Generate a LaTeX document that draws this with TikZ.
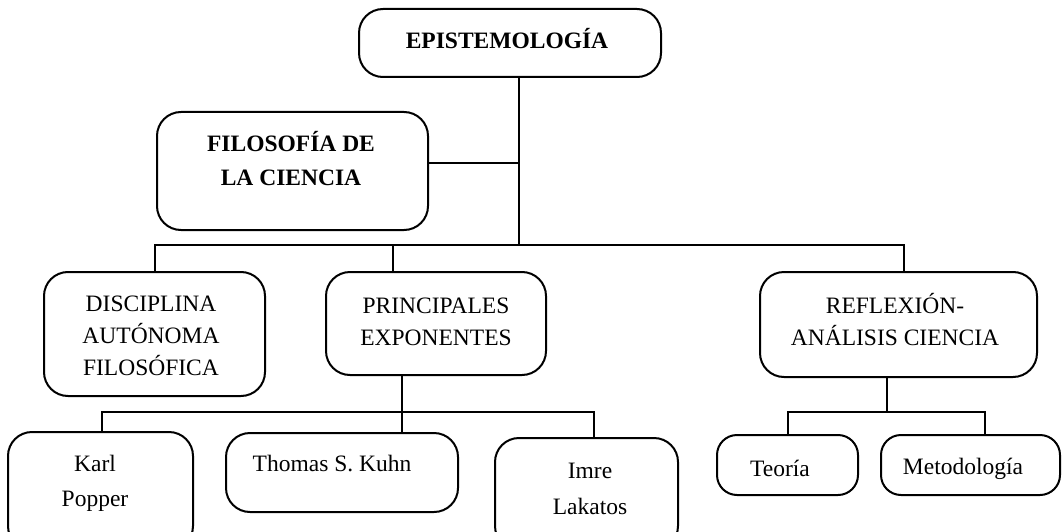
\documentclass[tikz,border=0pt]{standalone}
\usepackage{fontspec}
\setmainfont{Liberation Serif}
\tikzset{
  box/.style={draw, line width=2pt, rounded corners=24pt, inner sep=0pt},
  lbl/.style={font=\fontsize{23.5}{32}\selectfont, align=center, anchor=base, inner sep=0pt},
  blbl/.style={lbl, font=\bfseries\fontsize{23.5}{34}\selectfont},
  conn/.style={line width=2pt},
}
\begin{document}
\begin{tikzpicture}[x=1pt,y=-1pt]
\useasboundingbox (0,0) rectangle (1064,532);
\clip (0,0) rectangle (1064,532);
% boxes
\node[box, minimum width=302pt, minimum height=68pt]  (epi)  at (510,43)    {};
\node[box, minimum width=271pt, minimum height=118pt] (filo) at (292.5,171) {};
\node[box, minimum width=221pt, minimum height=124pt] (disc) at (154.5,334) {};
\node[box, minimum width=220pt, minimum height=103pt] (prin) at (436,323.5) {};
\node[box, minimum width=277pt, minimum height=105pt] (refl) at (898.5,324.5) {};
\node[box, minimum width=185pt, minimum height=118pt] (karl) at (100.5,491) {};
\node[box, minimum width=232pt, minimum height=79pt]  (thom) at (342,472.5) {};
\node[box, minimum width=183pt, minimum height=112pt] (imre) at (586.5,494) {};
\node[box, minimum width=141pt, minimum height=60pt, rounded corners=20pt]  (teor) at (787.5,465) {};
\node[box, minimum width=179pt, minimum height=60pt, rounded corners=20pt]  (meto) at (970.5,465) {};
% texts (base anchor = baseline of the last line)
\node[blbl] (tepi)  at (507,49)  {EPISTEMOLOGÍA};
\node[blbl] (tfilo) at (291,185) {FILOSOFÍA DE\\LA CIENCIA};
\node[lbl]  (tdisc) at (151,375) {DISCIPLINA\\AUTÓNOMA\\FILOSÓFICA};
\node[lbl]  (tprin) at (436,345) {PRINCIPALES\\EXPONENTES};
\node[lbl]  (trefl) at (895,345) {REFLEXIÓN-\\ANÁLISIS CIENCIA};
\node[lbl, font=\fontsize{23.5}{35}\selectfont] (tkarl) at (95,506) {Karl\\Popper};
\node[lbl]  (tthom) at (332,471) {Thomas S. Kuhn};
\node[lbl, font=\fontsize{23.5}{36}\selectfont] (timre) at (590,514) {Imre\\Lakatos};
\node[lbl]  (tteor) at (780,476) {Teoría};
\node[lbl]  (tmeto) at (963,474) {Metodología};
% connectors
\coordinate (b1) at (519,245);
\draw[conn] (epi.south -| b1) -- (b1);
\draw[conn] ([yshift=8pt]filo.east) -- ([yshift=8pt]filo.east -| b1);
\coordinate (busL) at (155,245);
\coordinate (busM) at (393,245);
\coordinate (busR) at (904,245);
\draw[conn] (disc.north -| busL) |- (busR) -- (refl.north -| busR);
\draw[conn] (busM) -- (prin.north -| busM);
\coordinate (p1) at (402,412);
\draw[conn] (prin.south -| p1) -- (thom.north -| p1);
\coordinate (sL) at (102,412);
\coordinate (sR) at (594,412);
\draw[conn] (karl.north -| sL) |- (sR) -- (imre.north -| sR);
\coordinate (r1) at (887,412);
\draw[conn] (refl.south -| r1) -- (r1);
\coordinate (rL) at (788,412);
\coordinate (rR) at (985,412);
\draw[conn] (teor.north -| rL) |- (rR) -- (meto.north -| rR);
\end{tikzpicture}
\end{document}
